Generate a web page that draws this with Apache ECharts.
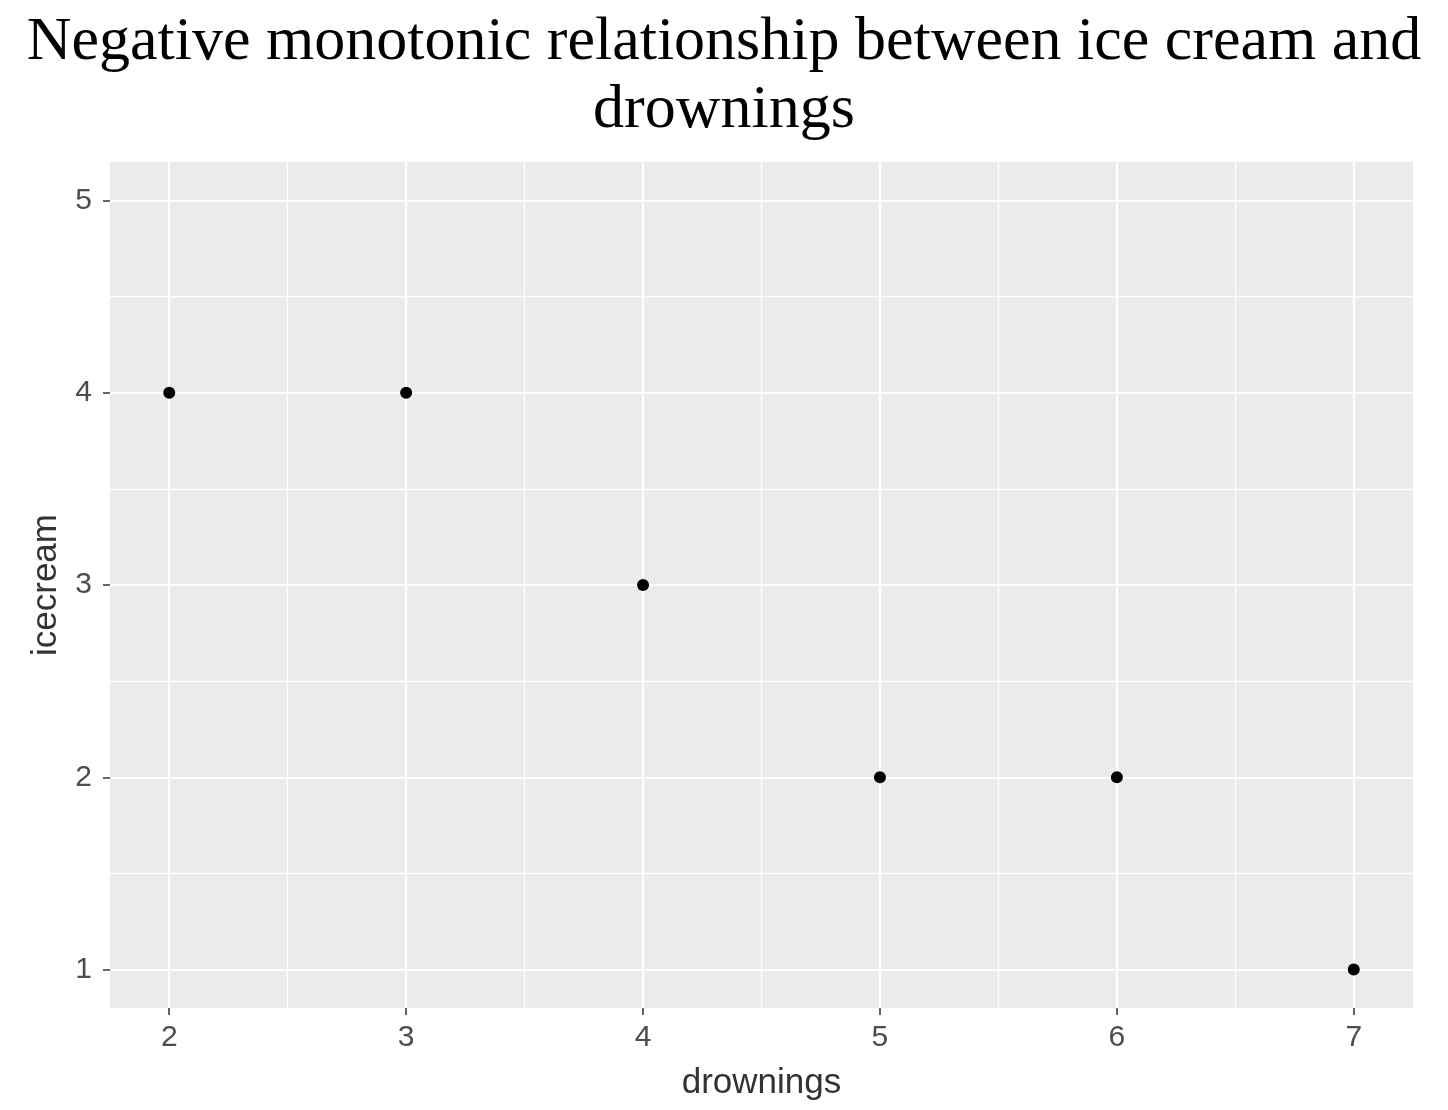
<!DOCTYPE html>
<html lang="en">
<head>
  <meta charset="UTF-8">
  <title>icecream vs drownings</title>
  <script src="https://cdn.jsdelivr.net/npm/echarts@6/dist/echarts.min.js"></script>
  <style>
    html, body { margin: 0; padding: 0; background: #fff; }
  </style>
</head>
<body>
<div id="main" style="width: 1448px;height: 1110px;"></div>
<script>
  let myChart = echarts.init(document.getElementById('main'))

  // data
  let drownings = [2, 3, 4, 5, 6, 7]
  let icecream = [4, 4, 3, 2, 2, 1]
  let xTicks = [2, 3, 4, 5, 6, 7]
  let yTicks = [1, 2, 3, 4, 5]
  let xMinor = [2.5, 3.5, 4.5, 5.5, 6.5]
  let yMinor = [1.5, 2.5, 3.5, 4.5]

  let points = drownings.map((d, i) => [d, icecream[i]])

  // ggplot style grid lines, major a bit thicker than minor
  let gridLines = []
  xMinor.forEach(v => gridLines.push({xAxis: v, lineStyle: {width: 1.3}}))
  yMinor.forEach(v => gridLines.push({yAxis: v, lineStyle: {width: 1.3}}))
  xTicks.forEach(v => gridLines.push({xAxis: v, lineStyle: {width: 2.2}}))
  yTicks.forEach(v => gridLines.push({yAxis: v, lineStyle: {width: 2.2}}))

  let sans = 'Arial, Liberation Sans, sans-serif'
  let tickText = {color: '#4D4D4D', fontSize: 30, fontFamily: sans}

  option = {
    animation: false,
    title: {
      text: 'Negative monotonic relationship between ice cream and\ndrownings',
      left: 'center',
      top: 4,
      textStyle: {
        fontFamily: 'Times New Roman, Liberation Serif, serif',
        fontWeight: 'normal',
        fontSize: 62,
        lineHeight: 68,
        color: '#000'
      }
    },
    grid: {
      left: 110,
      right: 35,
      top: 162,
      bottom: 102,
      show: true,
      backgroundColor: '#EBEBEB',
      borderWidth: 0
    },
    xAxis: {
      type: 'value',
      min: 1.75,
      max: 7.25,
      name: 'drownings',
      nameLocation: 'middle',
      nameGap: 58,
      nameTextStyle: {color: '#333', fontSize: 35, fontFamily: sans},
      axisLine: {show: false},
      axisTick: {show: true, length: 7, customValues: xTicks, lineStyle: {color: '#333', width: 1.5}},
      axisLabel: Object.assign({customValues: xTicks, margin: 15}, tickText),
      splitLine: {show: false}
    },
    yAxis: {
      type: 'value',
      min: 0.8,
      max: 5.2,
      name: 'icecream',
      nameLocation: 'middle',
      nameGap: 46,
      nameTextStyle: {color: '#333', fontSize: 35, fontFamily: sans},
      axisLine: {show: false},
      axisTick: {show: true, length: 7, customValues: yTicks, lineStyle: {color: '#333', width: 1.5}},
      axisLabel: Object.assign({customValues: yTicks, margin: 18}, tickText),
      splitLine: {show: false}
    },
    series: [
      {
        type: 'scatter',
        data: points,
        symbolSize: 12,
        itemStyle: {color: '#000', opacity: 1},
        z: 5,
        markLine: {
          silent: true,
          symbol: 'none',
          label: {show: false},
          lineStyle: {color: '#fff', type: 'solid'},
          data: gridLines,
          z: 1
        }
      }
    ]
  }
  myChart.setOption(window.option)
</script>
</body>
</html>
